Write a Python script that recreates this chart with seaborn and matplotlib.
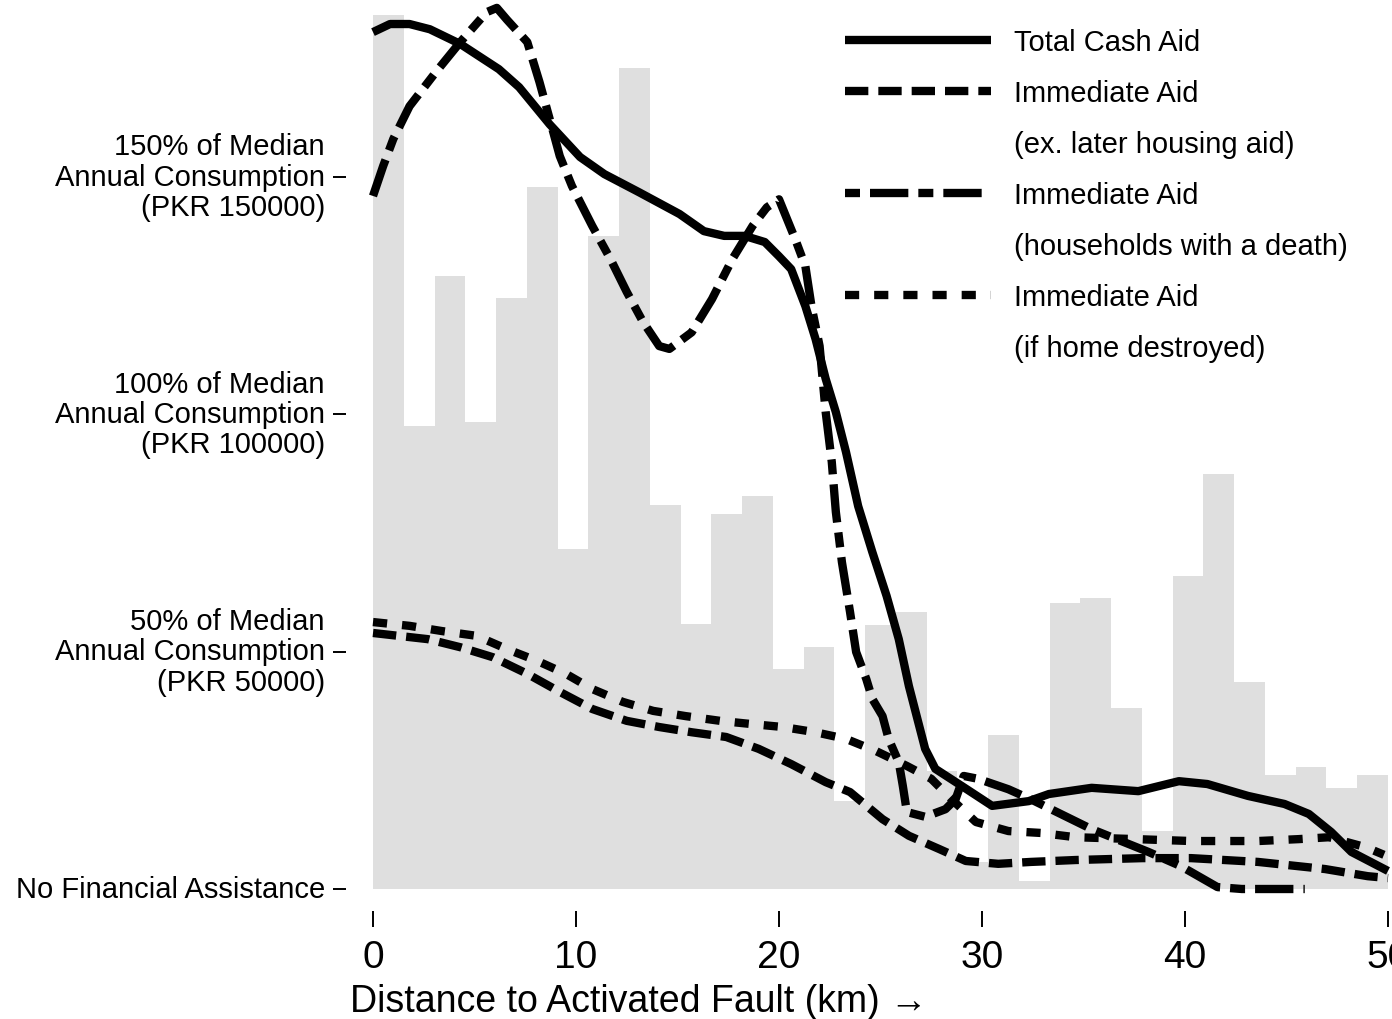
import numpy as np
import pandas as pd
import matplotlib
matplotlib.use("Agg")
import matplotlib.pyplot as plt
import seaborn as sns
from matplotlib.lines import Line2D

# ---------------- data ----------------
# background histogram: 33 equal bins over 0-50 km, heights in y-axis units
hist_heights = [184000, 97500, 129000, 98300, 124400, 147800, 71600, 137500, 172800,
                80800, 55800, 79000, 82700, 46300, 51000, 18500, 55600, 58300, 24800,
                5700, 32400, 1700, 60200, 61300, 38100, 12200, 65900, 87400, 43600,
                24000, 25700, 21300, 24000]

total_km = [0.0, 0.84, 1.8, 2.8, 4.3, 6.2, 7.2, 8.7, 10.2, 11.4, 13.1, 15.1, 16.3, 17.3,
            18.3, 19.3, 20.0, 20.6, 21.3, 21.8, 22.3, 22.8, 23.3, 23.9, 24.6, 25.3, 25.9,
            26.4, 27.2, 27.7, 29.0, 30.5, 32.3, 33.3, 35.4, 37.7, 39.7, 41.1, 43.1, 44.9,
            46.1, 47.2, 48.2, 50.0]
total_pkr = [180400, 182100, 182100, 181000, 177900, 172600, 168800, 161000, 154100,
             150500, 146700, 142100, 138500, 137500, 137500, 136200, 133200, 130500,
             122700, 115800, 107400, 100400, 92000, 80600, 70900, 61700, 52600, 42700,
             29500, 25300, 21700, 17500, 18500, 20000, 21300, 20600, 22700, 22100, 19600,
             17900, 15800, 12000, 7800, 3800]

exhousing_km = [0.0, 2.7, 4.3, 5.9, 7.6, 9.2, 10.8, 12.5, 14.1, 15.7, 17.4, 19.0, 20.6,
                22.3, 23.5, 25.1, 26.4, 27.9, 29.2, 30.8, 32.4, 34.6, 37.9, 40.3, 43.6,
                46.9, 49.0, 50.0]
exhousing_pkr = [53900, 52600, 50900, 48800, 45300, 41500, 37900, 35400, 34100, 33000,
                 32000, 29500, 26300, 22500, 20400, 14700, 11200, 8400, 5900, 5300, 5700,
                 6100, 6500, 6500, 5700, 4200, 2700, 2300]

death_km = [0.0, 0.5, 1.0, 1.8, 3.1, 4.3, 5.6, 6.1, 6.6, 7.6, 8.2, 8.8, 9.2, 9.8, 10.8,
            11.7, 12.5, 13.3, 14.1, 14.6, 15.7, 16.7, 17.7, 18.7, 19.4, 20.0, 20.8, 21.3,
            21.6, 22.0, 22.3, 22.6, 22.8, 23.1, 23.5, 23.8, 24.3, 24.6, 25.1, 25.4, 25.9,
            26.1, 26.3, 27.2, 28.2, 28.7, 29.1, 29.8, 31.3, 32.4, 35.4, 38.2, 39.8, 41.6,
            42.8, 45.9]
death_pkr = [145900, 152200, 157900, 164800, 172000, 178300, 184600, 185500, 183000,
             178300, 169900, 160600, 154300, 148000, 139600, 132600, 125700, 119400,
             114300, 113700, 117200, 124200, 132600, 139600, 143500, 145200, 136800,
             131100, 122700, 114300, 100400, 89900, 79400, 68800, 58300, 49900, 44200,
             40000, 36400, 31600, 26700, 21700, 16200, 15200, 16800, 18900, 23800, 23200,
             21000, 18900, 12600, 7800, 4800, 400, 0, 0]

destroyed_km = [0.0, 1.8, 3.4, 5.1, 6.6, 8.1, 9.5, 10.8, 12.3, 13.8, 15.4, 17.1, 18.7,
                20.2, 21.8, 23.3, 24.8, 26.3, 27.5, 28.6, 29.7, 31.3, 32.9, 34.6, 37.6,
                40.3, 43.6, 45.6, 47.1, 48.9, 49.8]
destroyed_pkr = [56200, 55400, 54300, 53300, 50500, 48000, 45300, 42100, 39400, 37500,
                 36400, 35400, 34700, 34100, 33000, 31600, 29000, 25900, 23200, 18500,
                 14100, 12200, 11800, 10900, 10500, 10100, 10100, 10500, 10900, 8800, 7200]

series_names = ["Total Cash Aid", "Immediate Aid (ex. later housing aid)",
                "Immediate Aid (households with a death)", "Immediate Aid (if home destroyed)"]
legend_labels = ["Total Cash Aid", "Immediate Aid", "(ex. later housing aid)",
                 "Immediate Aid", "(households with a death)",
                 "Immediate Aid", "(if home destroyed)"]

y_ticks = [0, 50000, 100000, 150000]
y_ticklabels = ["No Financial Assistance",
                "50% of Median\nAnnual Consumption\n(PKR 50000)",
                "100% of Median\nAnnual Consumption\n(PKR 100000)",
                "150% of Median\nAnnual Consumption\n(PKR 150000)"]
x_ticks = [0, 10, 20, 30, 40, 50]
x_label = "Distance to Activated Fault (km) \u2192"

# ---------------- styling ----------------
sns.set_theme(style="white")
plt.rcParams["font.family"] = ["Liberation Sans", "DejaVu Sans"]

LW = 6.0
dash_map = {series_names[0]: "",
            series_names[1]: (2.8, 1.2),
            series_names[2]: (4.6, 1.2, 1.8, 1.2),
            series_names[3]: (1.7, 1.8)}

df = pd.concat([
    pd.DataFrame({"km": total_km, "pkr": total_pkr, "series": series_names[0]}),
    pd.DataFrame({"km": exhousing_km, "pkr": exhousing_pkr, "series": series_names[1]}),
    pd.DataFrame({"km": death_km, "pkr": death_pkr, "series": series_names[2]}),
    pd.DataFrame({"km": destroyed_km, "pkr": destroyed_pkr, "series": series_names[3]}),
], ignore_index=True)

n_bins = len(hist_heights)
bin_w = 50 / n_bins
hist_df = pd.DataFrame({"center": [bin_w * (i + 0.5) for i in range(n_bins)],
                        "height": hist_heights})

fig = plt.figure(figsize=(13.92, 10.20), dpi=100)
ax = fig.add_axes([373 / 1392, 130 / 1020, 1015 / 1392, 883.5 / 1020])

sns.histplot(data=hist_df, x="center", weights="height", bins=n_bins, binrange=(0, 50),
             color="#dfdfdf", alpha=1, linewidth=0, ax=ax, zorder=1)

sns.lineplot(data=df, x="km", y="pkr", style="series", style_order=series_names,
             dashes=dash_map, color="black", linewidth=LW, estimator=None, sort=False,
             legend=False, ax=ax, zorder=3)
for ln in ax.lines:
    ln.set_clip_on(False)
    ln.set_solid_capstyle("butt")
    ln.set_dash_capstyle("butt")

ax.set_xlim(0, 50)
ax.set_ylim(0, 186000)
for s in ax.spines.values():
    s.set_visible(False)
ax.spines["left"].set_position(("outward", 19.4))
ax.spines["bottom"].set_position(("outward", 15.8))

ax.set_xticks(x_ticks)
ax.set_xticklabels([str(v) for v in x_ticks])
ax.set_yticks(y_ticks)
ax.set_yticklabels(y_ticklabels, linespacing=1.1, va="center")
ax.tick_params(axis="y", left=True, length=9.4, width=1.4, pad=5.8, labelsize=21,
               color="black", labelcolor="black", direction="out")
ax.tick_params(axis="x", bottom=True, length=11.5, width=1.4, pad=8.6, labelsize=28,
               color="black", labelcolor="black", direction="out")
ax.set_ylabel("")
ax.set_xlabel(x_label, fontsize=27, color="black", loc="left")
ax.xaxis.set_label_coords(-0.0226, -0.106)

# legend with continuation rows
handles = [
    Line2D([], [], color="black", lw=LW, linestyle="-"),
    Line2D([], [], color="black", lw=LW, dashes=dash_map[series_names[1]]),
    Line2D([], [], color="none", lw=0),
    Line2D([], [], color="black", lw=LW, dashes=(1.8, 1.2, 4.6, 1.2)),
    Line2D([], [], color="none", lw=0),
    Line2D([], [], color="black", lw=LW, dashes=dash_map[series_names[3]]),
    Line2D([], [], color="none", lw=0),
]
for h in handles:
    h.set_dash_capstyle("butt")
    h.set_solid_capstyle("butt")
fig.legend(handles, legend_labels, loc="upper left",
           bbox_to_anchor=(845 / 1392, 1 - 29 / 1020), frameon=False,
           fontsize=21, handlelength=5.0, handletextpad=0.78, labelspacing=0.79,
           borderpad=0, borderaxespad=0, labelcolor="black")

fig.savefig("out.png", dpi=100, facecolor="white")
